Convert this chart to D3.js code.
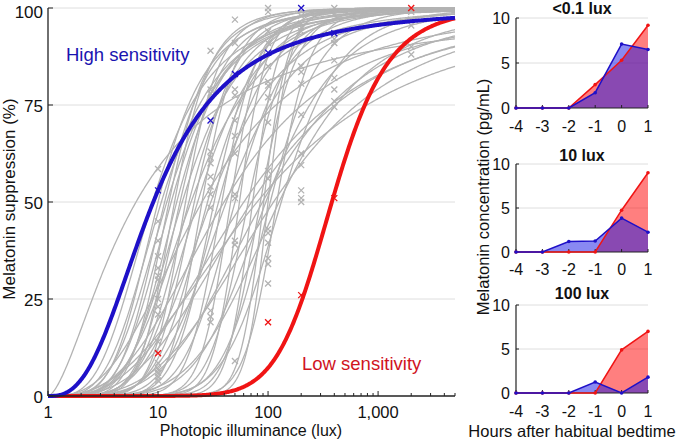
<!DOCTYPE html>
<html><head><meta charset="utf-8">
<script src="https://cdn.jsdelivr.net/npm/d3@7"></script>
<style>body{margin:0;background:#fff} svg{display:block} text{font-family:"Liberation Sans",Arial,Helvetica,sans-serif;fill:#111}</style>
</head><body><svg id="c" width="677" height="441"></svg>
<script>
// ---------- data ----------
const luxTicks = [1, 10, 100, 1000];
const luxTickLabels = ["1", "10", "100", "1,000"];
const pctTicks = [0, 25, 50, 75, 100];
// fitted dose-response parameters: half-max point (log10 lux) and slope
const highC = 0.957, highN = 2.7;
const lowC = 2.58, lowN = 10;
const grayC = [0.80,0.95,1.00,1.03,1.06,1.08,1.10,1.12,1.15,1.17,1.20,1.22,1.25,1.28,1.30,1.33,1.36,1.40,1.45,1.48,1.51,1.55,1.58,1.62,1.66,1.70,1.74,1.78,1.82,1.86,1.90,1.93,1.96,1.98,2.00,2.02,2.05,2.08,2.12,1.85,1.60,1.40,1.95,2.10];
const grayN = [1.6,3.5,4.5,3.8,5.0,4.0,6.0,4.5,7.0,5.0,6.0,4.5,8.0,5.5,4.0,7.0,5.0,9.0,6.0,4.5,8.0,6.5,10.0,5.0,12.0,7.0,14.0,3.0,10.0,16.0,2.6,12.0,18.0,6.0,20.0,9.0,3.5,14.0,8.0,3.2,3.0,2.8,4.0,5.0];
const highLux = [10, 30, 50, 100, 200, 400];
const highVal = [53, 71, 83, 88.5, 100, 93.5];
const lowLux = [10, 100, 200, 400, 2000];
const lowVal = [11, 19, 26, 51, 100];
const grayLux = [10,10,10,10,10,10,10,10,10,10,10,10,10,10,10,10,
  30,30,30,30,30,30,30,30,30,30,30,30,30,
  50,50,50,50,50,50,50,50,50,50,50,50,
  100,100,100,100,100,100,100,100,100,100,100,100,100,100,100,100,100,
  200,200,200,200,200,200,200,200,200,200,200,200,200,
  400,400,400,400,400,400,400,400,400,
  2000,2000,2000,2000,2000];
const grayVal = [58.5,45,40,36,33,31,30,25,23,21,14,8.5,7,6,5,4,
  89,79,78,63,61.5,60,56.5,54,52,48.5,22,20.5,19,
  97,91,79,77.5,71,67,62.5,52,51,40,39,9,
  100,99,94,91,85,81,80,77,70.5,58,56,43,42,39.5,35.5,34,29,
  98,96,95,94,85,83.5,80.5,72.5,62.5,59.5,53,51,50,
  100,98.5,92,91,86.5,82,79,76,74.5,
  99,97,95.5,90,88];
const hours = [-4, -3, -2, -1, 0, 1];
const concTicks = [0, 5, 10];
const panelTitles = ["<0.1 lux", "10 lux", "100 lux"];
const lowConc = [[0,0,0,2.6,5.3,9.2],[0,0,0,0,4.75,9.0],[0,0,0,0,4.9,7.0]];
const highConc = [[0,0,0,1.7,7.1,6.5],[0,0,1.2,1.25,3.85,2.25],[0,0,0,1.25,0,1.8]];

// ---------- colors ----------
const BLUE = "#1e10c8", RED = "#f01414", GRAY = "#b3b3b3", GRID = "#dedede";
const svg = d3.select("#c");

// ---------- main chart ----------
const x = d3.scaleLog().domain([1, 5000]).range([48, 455]);
const y = d3.scaleLinear().domain([0, 100]).range([396, 8]);
const hill = (lux, c, n) => { const L = Math.log10(lux); return L <= 0 ? 0 : 100 * Math.pow(L, n) / (Math.pow(L, n) + Math.pow(c, n)); };
const luxSamples = d3.range(0, 501).map(i => Math.pow(10, i / 500 * Math.log10(5000)));
const line = d3.line().x(d => x(d[0])).y(d => y(d[1]));
const curve = (c, n) => line(luxSamples.map(l => [l, hill(l, c, n)]));

// gridlines
svg.append("g").selectAll("line").data(pctTicks.filter(t => t > 0)).join("line")
  .attr("x1", x(1)).attr("x2", x(5000)).attr("y1", d => y(d)).attr("y2", d => y(d))
  .attr("stroke", GRID).attr("stroke-width", 1);

// gray curves
svg.append("g").selectAll("path").data(grayC.map((c, i) => [c, grayN[i]])).join("path")
  .attr("d", d => curve(d[0], d[1])).attr("fill", "none").attr("stroke", GRAY).attr("stroke-width", 1.3);

function cross(g, data, color) {
  const s = 3;
  g.selectAll("path").data(data).join("path")
    .attr("d", d => { const cx = x(d[0]), cy = y(d[1]); return `M${cx-s},${cy-s}L${cx+s},${cy+s}M${cx-s},${cy+s}L${cx+s},${cy-s}`; })
    .attr("stroke", color).attr("stroke-width", 1.3).attr("fill", "none");
}
cross(svg.append("g"), grayLux.map((l, i) => [l, grayVal[i]]), GRAY);

svg.append("path").attr("d", curve(lowC, lowN)).attr("fill", "none").attr("stroke", RED).attr("stroke-width", 4);
svg.append("path").attr("d", curve(highC, highN)).attr("fill", "none").attr("stroke", BLUE).attr("stroke-width", 4);
cross(svg.append("g"), highLux.map((l, i) => [l, highVal[i]]), BLUE);
cross(svg.append("g"), lowLux.map((l, i) => [l, lowVal[i]]), RED);

// axes
const ax = svg.append("g").attr("stroke", "#222");
ax.append("line").attr("x1", 48).attr("x2", 48).attr("y1", y(100)).attr("y2", y(0)).attr("stroke-width", 1.3);
ax.append("line").attr("x1", 48).attr("x2", x(5000)).attr("y1", y(0)).attr("y2", y(0)).attr("stroke-width", 1.3);
ax.selectAll(".yt").data(pctTicks).join("line").attr("x1", 48).attr("x2", 53).attr("y1", d => y(d)).attr("y2", d => y(d));
const minor = [];
for (let d = 0; d < 4; d++) for (let m = 2; m <= 9; m++) { const v = m * Math.pow(10, d); if (v <= 5000) minor.push(v); }
ax.selectAll(".mt").data(minor).join("line").attr("x1", d => x(d)).attr("x2", d => x(d)).attr("y1", y(0)).attr("y2", y(0) - 3);
ax.selectAll(".xt").data(luxTicks).join("line").attr("x1", d => x(d)).attr("x2", d => x(d)).attr("y1", y(0)).attr("y2", y(0) - 5);

svg.append("g").selectAll("text").data(pctTicks).join("text")
  .attr("x", 43).attr("y", d => Math.max(y(d) + 1, 11.5)).attr("dy", "0.36em").attr("text-anchor", "end")
  .attr("font-size", 17).text(d => d);
svg.append("g").selectAll("text").data(luxTicks).join("text")
  .attr("x", d => x(d)).attr("y", 418).attr("text-anchor", "middle")
  .attr("font-size", 16.5).text((d, i) => luxTickLabels[i]);
svg.append("text").attr("x", 251).attr("y", 436).attr("text-anchor", "middle").attr("font-size", 16).text("Photopic illuminance (lux)");
svg.append("text").attr("transform", "translate(15,199) rotate(-90)").attr("text-anchor", "middle").attr("font-size", 17).text("Melatonin suppression (%)");
svg.append("text").attr("x", 66).attr("y", 61).attr("font-size", 18.5).style("fill", "#1a14b0").text("High sensitivity");
svg.append("text").attr("x", 302).attr("y", 370).attr("font-size", 18.5).style("fill", "#d0141e").text("Low sensitivity");

// ---------- right panels ----------
const xs = d3.scaleLinear().domain([-4, 1]).range([516, 648]);
const panelRanges = [[108, 18], [252, 164], [393, 305]];
const tickBase = [132, 275, 417];
const titleBase = [14, 161, 299];
panelTitles.forEach((title, p) => {
  const ys = d3.scaleLinear().domain([0, 10]).range(panelRanges[p]);
  const g = svg.append("g");
  g.selectAll(".grid").data([5, 10]).join("line")
    .attr("x1", xs(-4)).attr("x2", xs(1)).attr("y1", d => ys(d)).attr("y2", d => ys(d)).attr("stroke", GRID);
  const area = d3.area().x((d, i) => xs(hours[i])).y0(ys(0)).y1(d => ys(d));
  const ln = d3.line().x((d, i) => xs(hours[i])).y(d => ys(d));
  g.append("path").attr("d", area(lowConc[p])).attr("fill", "rgba(255,0,0,0.5)");
  g.append("path").attr("d", area(highConc[p])).attr("fill", "rgba(20,20,230,0.5)");
  // axes
  g.append("line").attr("x1", xs(-4)).attr("x2", xs(1)).attr("y1", ys(0)).attr("y2", ys(0)).attr("stroke", "#222").attr("stroke-width", 1.2);
  g.append("line").attr("x1", xs(-4)).attr("x2", xs(-4)).attr("y1", ys(0)).attr("y2", ys(10)).attr("stroke", "#222").attr("stroke-width", 1.2);
  g.selectAll(".xt").data(hours).join("line").attr("x1", d => xs(d)).attr("x2", d => xs(d)).attr("y1", ys(0)).attr("y2", ys(0) - 3).attr("stroke", "#222");
  g.selectAll(".yt").data(concTicks).join("line").attr("x1", xs(-4)).attr("x2", xs(-4) + 3).attr("y1", d => ys(d)).attr("y2", d => ys(d)).attr("stroke", "#222");
  g.append("path").attr("d", ln(lowConc[p])).attr("fill", "none").attr("stroke", RED).attr("stroke-width", 1.5);
  g.selectAll(".rd").data(lowConc[p]).join("circle").attr("cx", (d, i) => xs(hours[i])).attr("cy", d => ys(d)).attr("r", 1.8).attr("fill", RED);
  g.append("path").attr("d", ln(highConc[p])).attr("fill", "none").attr("stroke", BLUE).attr("stroke-width", 1.5);
  g.selectAll(".bd").data(highConc[p]).join("circle").attr("cx", (d, i) => xs(hours[i])).attr("cy", d => ys(d)).attr("r", 1.8).attr("fill", BLUE);
  g.selectAll(".ytl").data(concTicks).join("text").attr("x", 510).attr("y", d => ys(d)).attr("dy", "0.36em")
    .attr("text-anchor", "end").attr("font-size", 16).text(d => d);
  g.selectAll(".xtl").data(hours).join("text").attr("x", d => xs(d)).attr("y", tickBase[p])
    .attr("text-anchor", "middle").attr("font-size", 16).text(d => d);
  g.append("text").attr("x", 582).attr("y", titleBase[p]).attr("text-anchor", "middle")
    .attr("font-size", 16).attr("font-weight", "bold").text(title);
});
svg.append("text").attr("x", 572).attr("y", 437).attr("text-anchor", "middle").attr("font-size", 16.5).text("Hours after habitual bedtime");
svg.append("text").attr("transform", "translate(489,197) rotate(-90)").attr("text-anchor", "middle").attr("font-size", 16.5).text("Melatonin concentration (pg/mL)");
</script></body></html>
